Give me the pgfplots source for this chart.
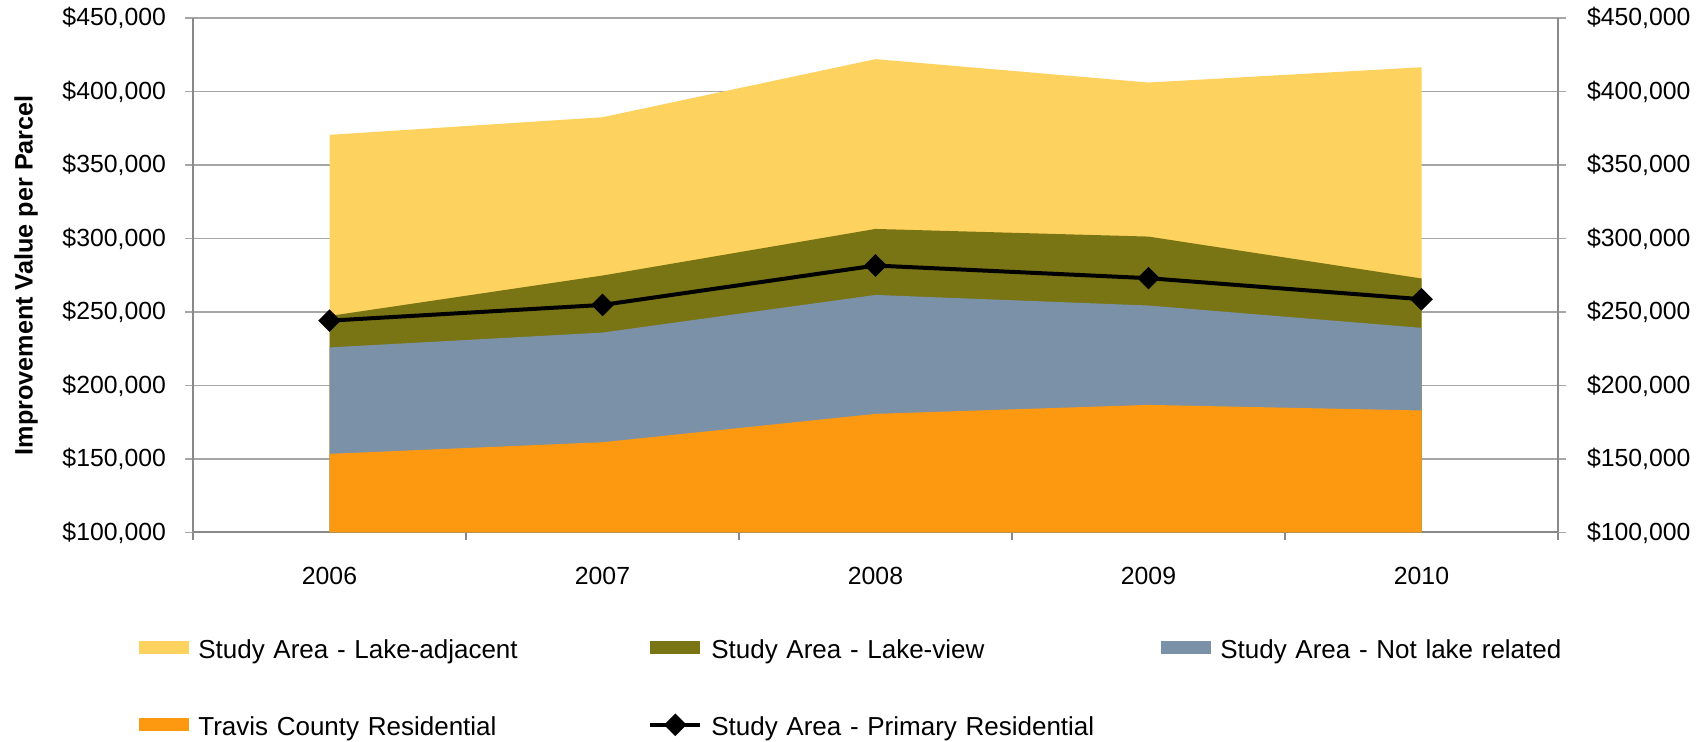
\documentclass[border=0pt]{standalone}
\usepackage{pgfplots}
\pgfplotsset{compat=1.18}
\usepackage{fontspec}
\setmainfont{Liberation Sans}
\definecolor{cAdj}{RGB}{254,210,94}
\definecolor{cView}{RGB}{121,117,20}
\definecolor{cNot}{RGB}{123,145,168}
\definecolor{cTrav}{RGB}{252,153,17}
\definecolor{axgray}{RGB}{137,137,137}
\definecolor{gridgray}{RGB}{166,166,166}
\pgfplotsset{
  arealeg/.style={legend image code/.code={\path[##1] (0pt,-1.35pt) rectangle (25pt,5.15pt);}},
  linelegend/.style={legend image code/.code={\draw[mark repeat=2,mark phase=2,##1] plot coordinates {(0pt,1.9pt) (12.5pt,1.9pt) (25pt,1.9pt)};}},
  common/.style={
    at={(96.5pt,104.75pt)}, anchor=south west,
    width=682.5pt, height=257.25pt, scale only axis,
    xmin=-0.5, xmax=4.5, ymin=100000, ymax=450000,
    scaled y ticks=false,
    ytick={100000,150000,200000,250000,300000,350000,400000,450000},
    yticklabels={{\$100,000},{\$150,000},{\$200,000},{\$250,000},{\$300,000},{\$350,000},{\$400,000},{\$450,000}},
    tick align=outside,
    major tick length=4pt, minor tick length=4pt,
    axis line style={axgray, line width=1pt},
    ticklabel style={font=\fontsize{12.4pt}{15pt}\selectfont},
    y tick style={gridgray, line width=0.7pt},
  }
}
\begin{document}
\begin{tikzpicture}
\path[use as bounding box] (0,0) rectangle (852pt,371pt);
\begin{axis}[common,
  axis x line*=bottom, axis y line*=left,
  xtick={0,1,2,3,4}, xticklabels={2006,2007,2008,2009,2010},
  major x tick style={draw=none},
  minor xtick={-0.5,0.5,1.5,2.5,3.5,4.5},
  minor x tick style={axgray, line width=1pt},
  xticklabel style={yshift=-10pt},
  yticklabel style={xshift=-6pt},
  ymajorgrids=true, xmajorgrids=false, xminorgrids=false,
  major grid style={gridgray, line width=0.7pt},
  ylabel={Improvement Value per Parcel},
  ylabel style={at={(axis description cs:-0.1223,0.5)}, anchor=center, font=\fontsize{12.6pt}{15pt}\selectfont\bfseries},
  legend style={at={(axis description cs:-0.0396,-0.2064)}, anchor=north west,
    draw=none, fill=none, inner sep=0pt, row sep=26pt,
    font=\fontsize{13pt}{15pt}\selectfont,
    nodes={inner sep=0pt, text height=9.5pt, text depth=3pt, text width=225pt},
    /tikz/every odd column/.append style={column sep=4.5pt},
  },
  legend columns=3, legend cell align=left,
]
\addplot[fill=cAdj, draw=none, arealeg] coordinates {(0,370500) (1,382500) (2,422000) (3,406100) (4,416500)} \closedcycle;
\addlegendentry{Study Area - Lake-adjacent}
\addplot[fill=cView, draw=none, arealeg] coordinates {(0,247300) (1,274800) (2,306500) (3,301300) (4,272800)} \closedcycle;
\addlegendentry{Study Area - Lake-view}
\addplot[fill=cNot, draw=none, arealeg] coordinates {(0,225900) (1,236000) (2,261600) (3,254400) (4,239200)} \closedcycle;
\addlegendentry{Study Area - Not lake related}
\addplot[fill=cTrav, draw=none, arealeg] coordinates {(0,153500) (1,161400) (2,180700) (3,186800) (4,183000)} \closedcycle;
\addlegendentry{Travis County Residential}
\addplot[black, line width=2pt, mark=square*, mark size=3pt, mark options={rotate=45, solid}, linelegend]
  coordinates {(0,244100) (1,254800) (2,281600) (3,273000) (4,258700)};
\addlegendentry{Study Area - Primary Residential}
\end{axis}
\begin{axis}[common,
  axis x line=none, axis y line*=right,
  xtick=\empty,
  yticklabel style={xshift=7pt},
]
\end{axis}
\end{tikzpicture}
\end{document}
